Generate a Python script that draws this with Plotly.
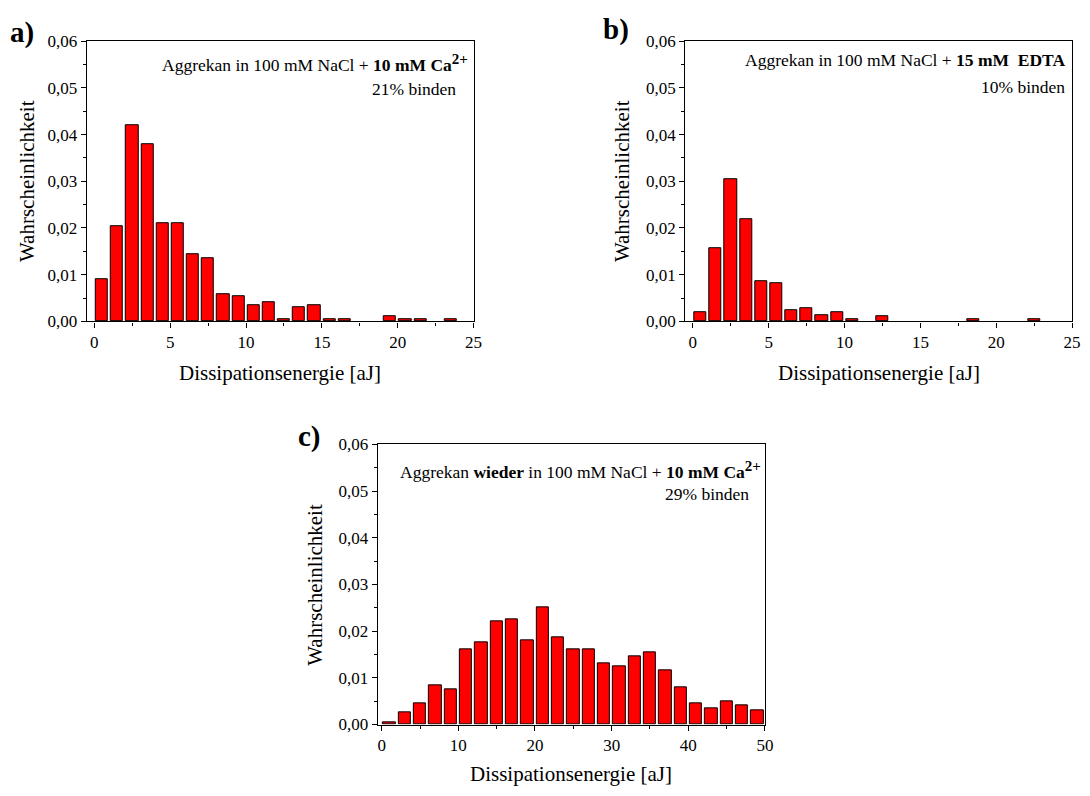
import plotly.graph_objects as go

W, H = 1090, 796

# ---------------- data ----------------
x_a = [0.5 + i for i in range(24)]
p_a = [0.009, 0.0204, 0.042, 0.038, 0.021, 0.021, 0.0144, 0.0135, 0.0059, 0.0054,
       0.0035, 0.004, 0.0005, 0.003, 0.0035, 0.0005, 0.0005, 0.0, 0.0, 0.001,
       0.0005, 0.0005, 0.0, 0.0005]

x_b = [0.5 + i for i in range(23)]
p_b = [0.0019, 0.0157, 0.0305, 0.0219, 0.0086, 0.0081, 0.0023, 0.0029, 0.0014, 0.0019,
       0.0004, 0.0, 0.001, 0.0, 0.0, 0.0, 0.0, 0.0, 0.0004, 0.0,
       0.0, 0.0, 0.0004]

x_c = [1 + 2 * i for i in range(25)]
p_c = [0.0004, 0.0025, 0.0045, 0.0084, 0.0075, 0.016, 0.0175, 0.022, 0.0225, 0.018,
       0.025, 0.0186, 0.016, 0.016, 0.013, 0.0125, 0.0145, 0.0155, 0.0115, 0.008,
       0.0045, 0.0035, 0.005, 0.004, 0.003]

xtitle = "Dissipationsenergie [aJ]"
ytitle = "Wahrscheinlichkeit"
SUP = "<sup><span style='font-size:15px'>2+</span></sup>"
label_a = "Aggrekan in 100 mM NaCl + <b>10 mM Ca" + SUP + "</b>"
label_b = "Aggrekan in 100 mM NaCl + <b>15 mM  EDTA</b>"
label_c = "Aggrekan <b>wieder</b> in 100 mM NaCl + <b>10 mM Ca" + SUP + "</b>"
bind_a, bind_b, bind_c = "21% binden", "10% binden", "29% binden"

FONT = "Liberation Serif"

# ---------------- layout helpers ----------------
def px(x):
    return x / W

def py(y):
    return 1 - y / H

panels = {
    # name: (left, right, top, bottom) in pixels
    "a": (87.5, 477.5, 33, 320),
    "b": (691, 1081, 33, 320),
    "c": (381, 771.3, 446, 733),
}

fig = go.Figure()

def bars(x, y, w, xa, ya):
    return go.Bar(x=x, y=y, width=w, xaxis=xa, yaxis=ya,
                  marker=dict(color="#FF0000",
                              line=dict(color="#000000",
                                        width=[1 if v > 0 else 0 for v in y])),
                  showlegend=False, hoverinfo="x+y")

fig.add_trace(bars(x_a, p_a, 0.8, "x", "y"))
fig.add_trace(bars(x_b, p_b, 0.8, "x2", "y2"))
fig.add_trace(bars(x_c, p_c, 1.6, "x3", "y3"))

def xaxis(dom, rng, dtick, anchor):
    return dict(domain=dom, range=rng, anchor=anchor, dtick=dtick, tick0=0,
                showline=True, linecolor="black", linewidth=1.3, mirror=True,
                ticks="outside", ticklen=5, tickwidth=1, tickcolor="black",
                minor=dict(ticks="outside", ticklen=3, dtick=dtick / 2, tick0=0,
                           tickcolor="black"),
                showgrid=False, zeroline=False,
                tickfont=dict(family=FONT, size=17, color="black"))

def yaxis(dom, anchor):
    return dict(domain=dom, range=[0, 0.06], anchor=anchor, dtick=0.01, tick0=0,
                tickformat=".2f",
                showline=True, linecolor="black", linewidth=1.3, mirror=True,
                ticks="outside", ticklen=5, tickwidth=1, tickcolor="black",
                minor=dict(ticks="outside", ticklen=3, dtick=0.005, tickcolor="black"),
                showgrid=False, zeroline=False,
                tickfont=dict(family=FONT, size=17, color="black"))

la, ra, ta, ba = panels["a"]
lb, rb, tb, bb = panels["b"]
lc, rc, tc, bc = panels["c"]

fig.update_layout(
    width=W, height=H, autosize=False,
    margin=dict(l=0, r=0, t=0, b=0),
    paper_bgcolor="white", plot_bgcolor="white",
    separators=",.",
    bargap=0,
    font=dict(family=FONT, color="black"),
    xaxis=xaxis([px(la), px(ra)], [-0.5, 25], 5, "y"),
    yaxis=yaxis([py(ba), py(ta)], "x"),
    xaxis2=xaxis([px(lb), px(rb)], [-0.5, 25], 5, "y2"),
    yaxis2=yaxis([py(bb), py(tb)], "x2"),
    xaxis3=xaxis([px(lc), px(rc)], [-0.5, 50], 10, "y3"),
    yaxis3=yaxis([py(bc), py(tc)], "x3"),
)

ann = []

def text(x, y, s, size, xanchor="center", angle=0, bold=False):
    ann.append(dict(x=px(x), y=py(y), xref="paper", yref="paper", text=(f"<b>{s}</b>" if bold else s),
                    showarrow=False, xanchor=xanchor, yanchor="middle", textangle=angle,
                    font=dict(family=FONT, size=size, color="black")))

# panel letters
text(22, 24, "a)", 29, bold=True)
text(621, 21, "b)", 29, bold=True)
text(312, 438, "c)", 29, bold=True)

# axis titles
text((la + ra) / 2, 373, xtitle, 21)
text((lb + rb) / 2, 373, xtitle, 21)
text((lc + rc) / 2, 784, xtitle, 21)
text(28, (ta + ba) / 2, ytitle, 21, angle=-90)
text(627, (tb + bb) / 2, ytitle, 21, angle=-90)
text(318, (tc + bc) / 2, ytitle, 21, angle=-90)

# in-plot labels
text(474, 55, label_a, 17.5, xanchor="right")
text(462, 82, bind_a, 17.5, xanchor="right")
text(1076, 52, label_b, 17.5, xanchor="right")
text(1076, 80, bind_b, 17.5, xanchor="right")
text(769, 472, label_c, 17.5, xanchor="right")
text(757, 497, bind_c, 17.5, xanchor="right")

fig.update_layout(annotations=ann)

fig.write_html("out.html")
